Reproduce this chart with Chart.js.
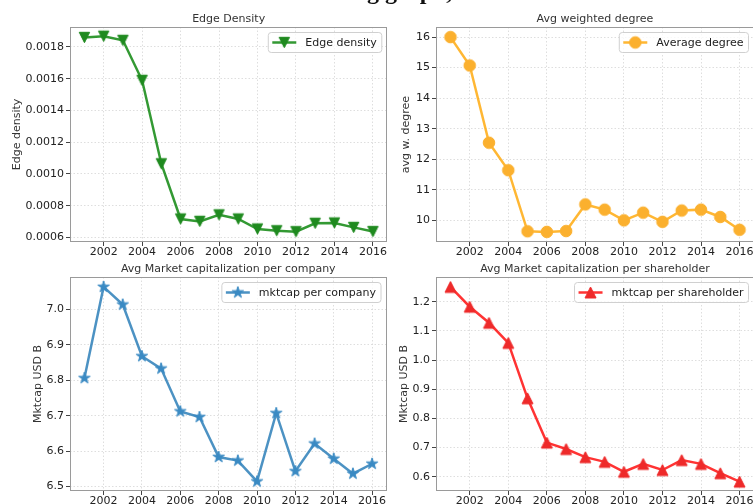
<!DOCTYPE html>
<html>
<head>
<meta charset="utf-8">
<script src="https://cdn.jsdelivr.net/npm/chart.js@4.4.1/dist/chart.umd.min.js"></script>
<style>
  html, body { margin: 0; padding: 0; background: #fff; }
  body { width: 753px; height: 504px; overflow: hidden; position: relative; }
  canvas { position: absolute; }
</style>
</head>
<body>
<canvas id="caption" width="753" height="12" style="left:0;top:0"></canvas>
<canvas id="c1" width="395" height="258" style="left:0;top:0"></canvas>
<canvas id="c2" width="390" height="258" style="left:380px;top:0"></canvas>
<canvas id="c3" width="395" height="270" style="left:0;top:250px"></canvas>
<canvas id="c4" width="390" height="270" style="left:380px;top:250px"></canvas>
<script>
// Yearly network statistics, 2001-2016
const years = [2001, 2002, 2003, 2004, 2005, 2006, 2007, 2008, 2009, 2010, 2011, 2012, 2013, 2014, 2015, 2016];
const edgeDensity = [0.001860, 0.001868, 0.001842, 0.001590, 0.001064, 0.000716, 0.000701, 0.000742,
                     0.000716, 0.000653, 0.000642, 0.000636, 0.000689, 0.000691, 0.000663, 0.000637];
const avgDegree = [16.0, 15.07, 12.54, 11.64, 9.64, 9.62, 9.65, 10.52, 10.35, 10.0, 10.25, 9.95, 10.32, 10.35, 10.11, 9.69];
const mktcapCompany = [6.806, 7.064, 7.014, 6.868, 6.833, 6.712, 6.696, 6.583, 6.573, 6.514, 6.707, 6.543, 6.621, 6.578, 6.536, 6.564];
const mktcapShareholder = [1.251, 1.183, 1.128, 1.059, 0.869, 0.717, 0.695, 0.667, 0.651, 0.617, 0.644, 0.623, 0.657, 0.644, 0.612, 0.583];

// Tick labels
const yearTicks = [2002, 2004, 2006, 2008, 2010, 2012, 2014, 2016];
const densityTicks = [0.0006, 0.0008, 0.0010, 0.0012, 0.0014, 0.0016, 0.0018];
const degreeTicks = [10, 11, 12, 13, 14, 15, 16];
const companyTicks = [6.5, 6.6, 6.7, 6.8, 6.9, 7.0];
const shareholderTicks = [0.6, 0.7, 0.8, 0.9, 1.0, 1.1, 1.2];

const FONT = '"DejaVu Sans", sans-serif';
Chart.defaults.font.family = FONT;
Chart.defaults.font.size = 11;
Chart.defaults.color = '#222';

// Filled marker glyphs (triangles, circle, five-point star)
function makeMarker(kind, fill, r) {
  const s = Math.ceil(r * 2 + 4);
  const c = document.createElement('canvas');
  c.width = c.height = s;
  const g = c.getContext('2d');
  const m = s / 2;
  g.beginPath();
  if (kind === 'circle') {
    g.arc(m, m, r, 0, Math.PI * 2);
  } else if (kind === 'triDown') {
    g.moveTo(m - r, m - r); g.lineTo(m + r, m - r); g.lineTo(m, m + r); g.closePath();
  } else if (kind === 'triUp') {
    g.moveTo(m - r, m + r); g.lineTo(m + r, m + r); g.lineTo(m, m - r); g.closePath();
  } else if (kind === 'star') {
    for (let i = 0; i < 10; i++) {
      const rr = i % 2 ? r * 0.382 : r;
      const a = -Math.PI / 2 + i * Math.PI / 5;
      g.lineTo(m + rr * Math.cos(a), m + rr * Math.sin(a));
    }
    g.closePath();
  }
  g.fillStyle = fill;
  g.fill();
  g.lineWidth = 1;
  g.strokeStyle = fill;
  g.stroke();
  return c;
}

// Axes frame, subplot title, y label and an upper-right legend
const mplPanel = {
  id: 'mplPanel',
  afterDraw(chart, args, o) {
    const { ctx, chartArea: a } = chart;
    ctx.save();
    const x0 = Math.round(a.left) + 0.5, y0 = Math.round(a.top) + 0.5;
    const x1 = Math.round(a.right) - 0.5, y1 = Math.round(a.bottom) - 0.5;
    ctx.strokeStyle = '#9a9a9a';
    ctx.lineWidth = 1;
    ctx.strokeRect(x0, y0, x1 - x0, y1 - y0);

    ctx.font = '11px ' + FONT;
    ctx.fillStyle = '#333';
    ctx.textAlign = 'center';
    ctx.textBaseline = 'middle';
    ctx.fillText(o.title, (a.left + a.right) / 2, a.top - 8);

    ctx.save();
    ctx.translate(o.ylabelX, (a.top + a.bottom) / 2);
    ctx.rotate(-Math.PI / 2);
    ctx.fillText(o.ylabel, 0, 0);
    ctx.restore();

    // legend
    const tw = ctx.measureText(o.legend).width;
    const bw = 4 + 24 + 9 + tw + 5, bh = 20;
    const bx = a.right - 5.5 - bw, by = a.top + 5.5;
    ctx.beginPath();
    ctx.roundRect(bx, by, bw, bh, 3);
    ctx.fillStyle = 'rgba(255,255,255,0.8)';
    ctx.fill();
    ctx.strokeStyle = '#d0d0d0';
    ctx.lineWidth = 1;
    ctx.stroke();
    const cy = by + bh / 2;
    ctx.beginPath();
    ctx.moveTo(bx + 4, cy);
    ctx.lineTo(bx + 28, cy);
    ctx.strokeStyle = o.lineColor;
    ctx.lineWidth = 2.5;
    ctx.stroke();
    const img = o.markerImg;
    ctx.drawImage(img, bx + 16 - img.width / 2, cy - img.height / 2);
    ctx.fillStyle = '#222';
    ctx.textAlign = 'left';
    ctx.fillText(o.legend, bx + 37, cy + 0.5);
    ctx.restore();
  }
};

function makePanel(p) {
  const markerImg = makeMarker(p.marker, p.markerColor, p.r);
  new Chart(document.getElementById(p.id), {
    type: 'line',
    data: {
      datasets: [{
        data: years.map((y, i) => ({ x: y, y: p.values[i] })),
        borderColor: p.lineColor,
        borderWidth: 2.5,
        tension: 0,
        fill: false,
        pointStyle: markerImg,
        pointRadius: p.r,
        clip: false
      }]
    },
    options: {
      responsive: false,
      animation: false,
      events: [],
      layout: { padding: { top: p.padTop, right: p.padRight, left: 0, bottom: 0 } },
      plugins: {
        legend: { display: false },
        tooltip: { enabled: false },
        mplPanel: {
          title: p.title, ylabel: p.ylabel, legend: p.legend, ylabelX: p.ylabelX,
          lineColor: p.lineColor, markerImg
        }
      },
      scales: {
        x: {
          type: 'linear',
          min: 2000.25,
          max: 2016.75,
          afterBuildTicks: s => { s.ticks = yearTicks.map(v => ({ value: v })); },
          afterFit: s => { s.height = p.xAxisH; },
          ticks: { callback: v => String(v), autoSkip: false, maxRotation: 0, padding: 0, color: '#222', font: { size: 11 } },
          grid: { color: '#d6d6d6', lineWidth: 0.8, tickLength: 4, tickColor: '#444', tickWidth: 1 },
          border: { display: false, dash: [1.5, 2] }
        },
        y: {
          type: 'linear',
          min: p.yMin,
          max: p.yMax,
          afterBuildTicks: s => { s.ticks = p.ticks.map(v => ({ value: v })); },
          afterFit: s => { s.width = p.yAxisW; },
          ticks: { callback: v => v.toFixed(p.dec), padding: 2, color: '#222', font: { size: 11 } },
          grid: { color: '#d6d6d6', lineWidth: 0.8, tickLength: 4, tickColor: '#444', tickWidth: 1 },
          border: { display: false, dash: [1.5, 2] }
        }
      }
    },
    plugins: [mplPanel]
  });
}

makePanel({
  id: 'c1', values: edgeDensity, ticks: densityTicks, yMin: 0.000571, yMax: 0.001926, dec: 4,
  lineColor: 'rgba(0,128,0,0.8)', markerColor: '#1f8a1f', marker: 'triDown', r: 5.2,
  title: 'Edge Density', ylabel: 'Edge density', legend: 'Edge density',
  yAxisW: 70, ylabelX: 17, padTop: 27, padRight: 5, xAxisH: 16
});
makePanel({
  id: 'c2', values: avgDegree, ticks: degreeTicks, yMin: 9.29, yMax: 16.33, dec: 0,
  lineColor: 'rgba(255,165,0,0.8)', markerColor: '#fbb02e', marker: 'circle', r: 5.8,
  title: 'Avg weighted degree', ylabel: 'avg w. degree', legend: 'Average degree',
  yAxisW: 56, ylabelX: 26, padTop: 27, padRight: 16, xAxisH: 16
});
makePanel({
  id: 'c3', values: mktcapCompany, ticks: companyTicks, yMin: 6.487, yMax: 7.092, dec: 1,
  lineColor: 'rgba(31,119,180,0.8)', markerColor: '#3a8ac3', marker: 'star', r: 6,
  title: 'Avg Market capitalization per company', ylabel: 'Mktcap USD B', legend: 'mktcap per company',
  yAxisW: 70, ylabelX: 38, padTop: 27, padRight: 5, xAxisH: 29
});
makePanel({
  id: 'c4', values: mktcapShareholder, ticks: shareholderTicks, yMin: 0.551, yMax: 1.285, dec: 1,
  lineColor: 'rgba(255,0,0,0.8)', markerColor: '#ee2a2a', marker: 'triUp', r: 5.5,
  title: 'Avg Market capitalization per shareholder', ylabel: 'Mktcap USD B', legend: 'mktcap per shareholder',
  yAxisW: 56, ylabelX: 24, padTop: 27, padRight: 16, xAxisH: 29
});

// Page caption above the figure; only its descenders fall inside the page
(function () {
  const g = document.getElementById('caption').getContext('2d');
  const text = 'Shareholding graph,';
  g.font = 'bold 24px "Liberation Serif", serif';
  g.fillStyle = '#111';
  g.textBaseline = 'alphabetic';
  const pre = g.measureText('Shareholdin').width;
  const gw = g.measureText('g').width;
  g.fillText(text, 373 - pre - gw / 2, -1.5);
})();
</script>
</body>
</html>
